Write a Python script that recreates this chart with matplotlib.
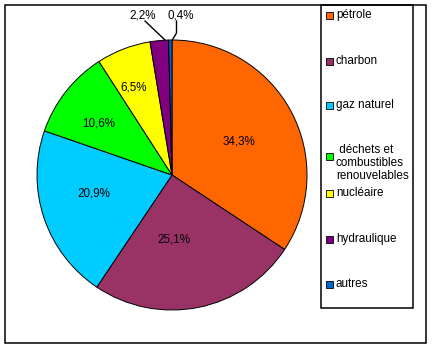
import matplotlib.pyplot as plt
from matplotlib.patches import Rectangle

plt.rcParams['font.family'] = ['Liberation Sans', 'DejaVu Sans']

# Energy mix shares (%)
sources = ['pétrole', 'charbon', 'gaz naturel', ' déchets et\ncombustibles\nrenouvelables',
           'nucléaire', 'hydraulique', 'autres']
shares = [34.3, 25.1, 20.9, 10.6, 6.5, 2.2, 0.4]
colors = ['#FF6600', '#993366', '#00CCFF', '#00FF00', '#FFFF00', '#800080', '#0066CC']

W, H = 432, 349

def px(x, y):
    # pixel (top-left origin) -> axes data coords
    return x, H - y

fig = plt.figure(figsize=(W / 100, H / 100), dpi=100)
ax = fig.add_axes([0, 0, 1, 1])

cx, cy = px(172, 175)
ax.pie(shares, colors=colors, startangle=90, counterclock=False,
       center=(cx, cy), radius=135,
       wedgeprops=dict(edgecolor='black', linewidth=0.7))
ax.set_xlim(0, W)
ax.set_ylim(0, H)
ax.set_aspect('auto')
ax.axis('off')

def fmt(v):
    return ('%.1f' % v).replace('.', ',') + '%'

fs = 8.4

# percentage labels inside the wedges
inner_pos = [(239, 142), (174, 240), (94, 193), (99, 124), (134, 88)]
for v, (x, y) in zip(shares[:5], inner_pos):
    ax.text(*px(x, y), fmt(v), ha='center', va='center', fontsize=fs)

# small wedges get labels above the pie with leader lines
ax.text(*px(142.5, 15), fmt(shares[5]), ha='center', va='center', fontsize=fs)
ax.text(*px(180.5, 15), fmt(shares[6]), ha='center', va='center', fontsize=fs)
ax.plot(*zip(px(145, 21), px(165, 40)), color='black', lw=1)
ax.plot(*zip(px(176.5, 21), px(176.5, 33), px(172, 40.5)), color='black', lw=1)

# outer frame and legend box
ax.add_patch(Rectangle(px(5, 343), 421, 338, fill=False, edgecolor='black', lw=1.1))
ax.add_patch(Rectangle(px(321, 308), 92, 303, fill=False, edgecolor='black', lw=1.1))

marker_y = [15, 61, 105, 156, 193, 239, 284]
for name, c, y in zip(sources, colors, marker_y):
    ax.add_patch(Rectangle(px(326, y + 3.5), 7, 7, facecolor=c, edgecolor='black', lw=0.6))
    if '\n' in name:
        ax.text(*px(336, y - 12), name, ha='left', va='top', fontsize=fs, linespacing=1.1)
    else:
        ax.text(*px(336, y), name, ha='left', va='center', fontsize=fs)

fig.savefig('out.png', dpi=100)
